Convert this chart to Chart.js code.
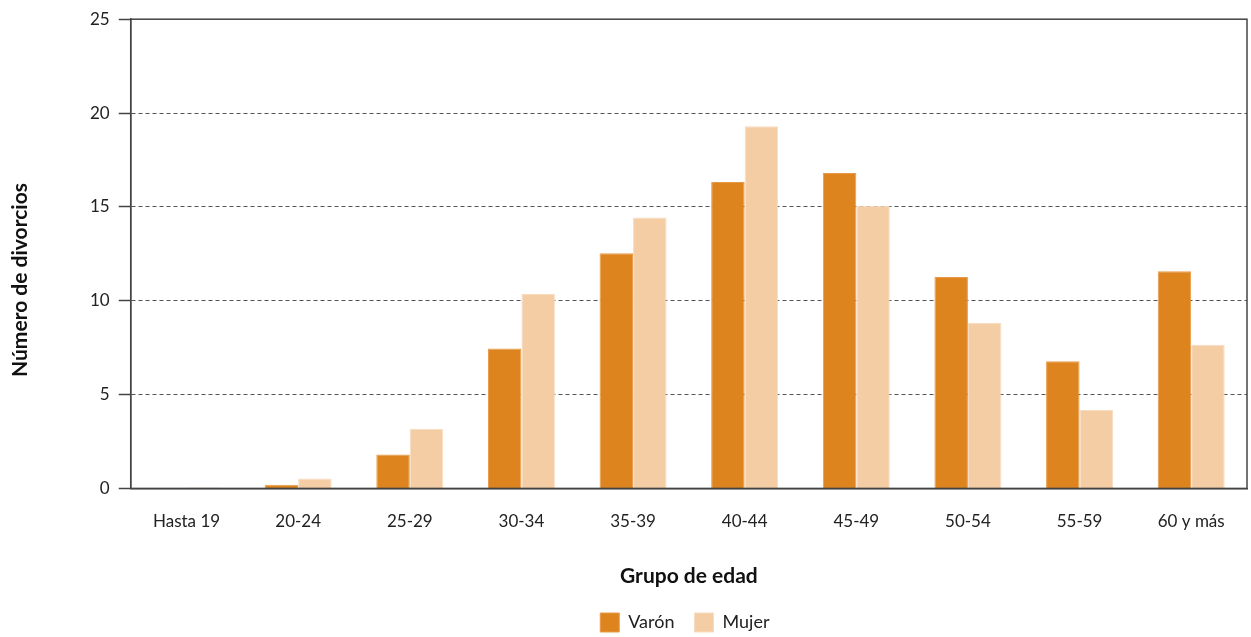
<!DOCTYPE html>
<html>
<head>
<meta charset="utf-8">
<script src="https://cdn.jsdelivr.net/npm/chart.js@4"></script>
<style>
  html, body { margin: 0; padding: 0; background: #fff; }
  #wrap { width: 1251px; height: 637px; }
</style>
</head>
<body>
<div id="wrap"><canvas id="chart"></canvas></div>
<script>
const categories = ["Hasta 19", "20-24", "25-29", "30-34", "35-39", "40-44", "45-49", "50-54", "55-59", "60 y más"];
const varon = [0, 0.2, 1.8, 7.45, 12.53, 16.33, 16.81, 11.26, 6.77, 11.57];
const mujer = [0.05, 0.53, 3.17, 10.36, 14.43, 19.29, 15.06, 8.83, 4.18, 7.66];
const yTicks = [0, 5, 10, 15, 20, 25];
const yTitle = "Número de divorcios";

const FONT = "Lato, sans-serif";

// caja completa alrededor del area, titulo vertical y leyenda centrada en el area
const boxPlugin = {
  id: "box",
  afterLayout(chart) {
    const lg = chart.legend;
    const shift = (chart.chartArea.left + chart.chartArea.right) / 2 - (lg.left + lg.right) / 2 - 4;
    lg.left += shift;
    lg.right += shift;
  },
  afterDatasetsDraw(chart) {
    const { ctx, chartArea: a } = chart;
    ctx.save();
    ctx.strokeStyle = "#444";
    ctx.lineWidth = 1.5;
    ctx.strokeRect(a.left, a.top, a.right - a.left, a.bottom - a.top);

    ctx.translate(20, 280);
    ctx.rotate(-Math.PI / 2);
    ctx.fillStyle = "#111";
    ctx.font = "bold 21px " + FONT;
    ctx.textAlign = "center";
    ctx.textBaseline = "middle";
    ctx.fillText(yTitle, 0, 0);
    ctx.restore();
  }
};

new Chart(document.getElementById("chart"), {
  type: "bar",
  data: {
    labels: categories,
    datasets: [{
      label: "Varón",
      data: varon,
      backgroundColor: "#DE841E",
      borderColor: "#E89A48",
      borderWidth: 1,
      categoryPercentage: 0.6,
      barPercentage: 1
    }, {
      label: "Mujer",
      data: mujer,
      backgroundColor: "#F5CDA5",
      borderColor: "#F8DCBF",
      borderWidth: 1,
      categoryPercentage: 0.6,
      barPercentage: 1
    }]
  },
  options: {
    responsive: true,
    maintainAspectRatio: false,
    animation: false,
    layout: { padding: { top: -2, right: 4, left: 81, bottom: -5 } },
    plugins: {
      tooltip: { enabled: false },
      legend: {
        position: "bottom",
        labels: {
          font: { family: FONT, size: 18 },
          color: "#222",
          boxWidth: 19,
          boxHeight: 19,
          padding: 20
        }
      }
    },
    scales: {
      x: {
        grid: { display: false },
        border: { display: true, color: "#444", width: 1.5 },
        ticks: { font: { family: FONT, size: 17 }, color: "#222", padding: 15 },
        title: {
          display: true,
          text: "Grupo de edad",
          font: { family: FONT, size: 21, weight: "bold" },
          color: "#111",
          padding: { top: 17, bottom: 4 }
        }
      },
      y: {
        min: 0,
        max: 25,
        afterBuildTicks: (axis) => { axis.ticks = yTicks.map(v => ({ value: v })); },
        grid: {
          color: (c) => (c.tick && (c.tick.value === 0 || c.tick.value === 25)) ? "rgba(0,0,0,0)" : "#555",
          tickColor: "#444",
          tickLength: 12,
          tickWidth: 1.5,
          tickBorderDash: [],
          lineWidth: 1
        },
        border: { display: true, color: "#444", width: 1.5, dash: [4, 3] },
        ticks: { font: { family: FONT, size: 17 }, color: "#222", padding: 9 }
      }
    }
  },
  plugins: [boxPlugin]
});
</script>
</body>
</html>
